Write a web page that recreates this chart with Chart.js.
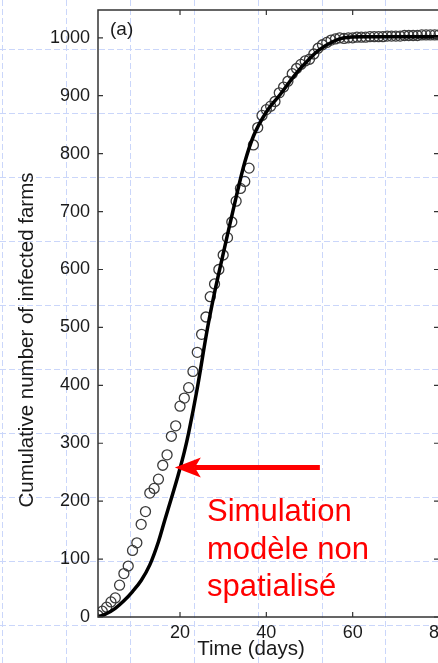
<!DOCTYPE html>
<html>
<head>
<meta charset="utf-8">
<style>
  html, body { margin: 0; padding: 0; overflow: hidden; background: #fff; }
  canvas { display: block; }
</style>
</head>
<body>
<canvas id="myChart" width="480" height="663"></canvas>
<script src="https://cdn.jsdelivr.net/npm/chart.js@4.4.1/dist/chart.umd.min.js"></script>
<script>
// observed cumulative infected farms (circles)
const obsDays = [1, 2, 3, 4, 5, 6, 7, 8, 9, 10, 11, 12, 13, 14, 15, 16, 17, 18, 19, 20,
  21, 22, 23, 24, 25, 26, 27, 28, 29, 30, 31, 32, 33, 34, 35, 36, 37, 38, 39, 40,
  41, 42, 43, 44, 45, 46, 47, 48, 49, 50, 51, 52, 53, 54, 55, 56, 57, 58, 59, 60,
  61, 62, 63, 64, 65, 66, 67, 68, 69, 70, 71, 72, 73, 74, 75, 76, 77, 78, 79, 80];
const obsFarms = [3, 10, 17, 26, 33, 55, 75, 88, 115, 128, 160, 182, 214, 222, 238, 262, 280, 312, 330, 364,
  378, 396, 424, 457, 488, 518, 553, 575, 600, 625, 655, 682, 718, 740, 752, 775, 815, 845, 866, 876,
  882, 890, 905, 915, 925, 938, 947, 954, 960, 963, 972, 982, 988, 992, 996, 998, 1000, 999, 1000, 1000,
  1001, 1001, 1001, 1002, 1002, 1002, 1002, 1003, 1003, 1003, 1003, 1004, 1004, 1004, 1004, 1005, 1005, 1005, 1005, 1005];

// non-spatial model simulation (solid line)
const simDays = [1, 3, 5, 7, 9, 11, 13, 15, 16.5, 18, 19.5, 21, 22, 24, 26.3, 28, 29.7, 31, 33, 35,
  37, 40, 43.3, 46, 48, 52, 55.6, 58, 62, 80];
const simFarms = [0, 6, 15, 28, 44, 63, 90, 130, 168, 205, 243, 285, 318, 395, 496, 560, 617, 660, 725, 785,
  830, 872, 903, 930, 948, 978, 994, 1000, 1002, 1002];

const xTicks = [20, 40, 60, 80];
const yTicks = [0, 100, 200, 300, 400, 500, 600, 700, 800, 900, 1000];

const fontFamily = "'Liberation Sans', Arial, Helvetica, sans-serif";

// light dashed grid behind the whole picture
const pageGrid = {
  id: "pageGrid",
  beforeDraw(chart) {
    const c = chart.ctx;
    c.save();
    c.strokeStyle = "#cad6fa";
    c.lineWidth = 1;
    c.setLineDash([6, 3]);
    for (let k = 0; k < 8; k++) {
      const x = Math.round(2 + 63.9 * k) + 0.5;
      c.beginPath(); c.moveTo(x, 0); c.lineTo(x, chart.height); c.stroke();
    }
    for (let k = 0; k < 10; k++) {
      const y = Math.round(49 + 64 * k) + 0.5;
      c.beginPath(); c.moveTo(0, y); c.lineTo(chart.width, y); c.stroke();
    }
    c.restore();
  }
};

// matlab style box, inner ticks, titles and the red note
const frame = {
  id: "frame",
  afterDraw(chart) {
    const c = chart.ctx;
    const a = chart.chartArea;
    const xs = chart.scales.x;
    const ys = chart.scales.y;
    c.save();
    c.strokeStyle = "#333";
    c.lineWidth = 1.5;
    c.strokeRect(a.left, a.top, a.right - a.left, a.bottom - a.top);
    c.lineWidth = 1.2;
    yTicks.forEach(v => {
      const y = ys.getPixelForValue(v);
      c.beginPath();
      c.moveTo(a.left, y); c.lineTo(a.left + 5, y);
      c.moveTo(a.right, y); c.lineTo(a.right - 5, y);
      c.stroke();
    });
    xTicks.forEach(v => {
      const x = xs.getPixelForValue(v);
      c.beginPath();
      c.moveTo(x, a.bottom); c.lineTo(x, a.bottom - 5);
      c.moveTo(x, a.top); c.lineTo(x, a.top + 5);
      c.stroke();
    });

    c.fillStyle = "#1a1a1a";
    c.font = "19px " + fontFamily;
    c.textAlign = "left";
    c.textBaseline = "middle";
    c.fillText("(a)", 110, 30);

    c.font = "20.5px " + fontFamily;
    c.textAlign = "center";
    c.fillText("Time (days)", 251, 649);
    c.save();
    c.translate(27, 340);
    c.rotate(-Math.PI / 2);
    c.fillText("Cumulative number of infected farms", 0, 0);
    c.restore();

    // red arrow pointing at the model curve
    const tipX = xs.getPixelForValue(18.8);
    const tailX = xs.getPixelForValue(52.4);
    const arrowY = ys.getPixelForValue(258);
    c.strokeStyle = "#ff0000";
    c.fillStyle = "#ff0000";
    c.lineWidth = 5;
    c.beginPath();
    c.moveTo(tailX, arrowY); c.lineTo(tipX + 20, arrowY);
    c.stroke();
    c.beginPath();
    c.moveTo(tipX, arrowY);
    c.lineTo(tipX + 26, arrowY - 10);
    c.lineTo(tipX + 20, arrowY);
    c.lineTo(tipX + 26, arrowY + 10);
    c.closePath();
    c.fill();

    c.font = "31px " + fontFamily;
    c.textAlign = "left";
    c.fillText("Simulation", 207, 512);
    c.fillText("modèle non", 207, 550);
    c.fillText("spatialisé", 207, 587);
    c.restore();
  }
};

const ctx = document.getElementById("myChart");

new Chart(ctx, {
  type: "scatter",
  data: {
    datasets: [
      {
        label: "Model",
        data: simDays.map((d, i) => ({ x: d, y: simFarms[i] })),
        showLine: true,
        borderColor: "#000",
        borderWidth: 3.5,
        pointRadius: 0,
        cubicInterpolationMode: "monotone",
        order: 0,
      },
      {
        label: "Observed",
        data: obsDays.map((d, i) => ({ x: d, y: obsFarms[i] })),
        showLine: false,
        pointStyle: "circle",
        pointRadius: 5,
        pointBorderWidth: 1.3,
        borderColor: "#3a3a3a",
        backgroundColor: "rgba(0,0,0,0)",
        order: 1,
      },
    ],
  },
  options: {
    responsive: false,
    animation: false,
    events: [],
    layout: { padding: { left: 0, top: 10, right: 41, bottom: 0 } },
    plugins: { legend: { display: false }, tooltip: { enabled: false } },
    scales: {
      x: {
        type: "linear",
        min: 1,
        max: 80,
        grid: { display: false, drawTicks: false },
        border: { display: false },
        afterBuildTicks: (s) => { s.ticks = xTicks.map(v => ({ value: v })); },
        afterFit: (s) => { s.height = 46; s.paddingLeft = 0; s.paddingRight = 0; },
        ticks: { color: "#1a1a1a", padding: 5, maxRotation: 0, callback: (v) => String(v),
          font: { size: 18, family: fontFamily } },
      },
      y: {
        type: "linear",
        min: 0,
        max: 1048,
        grid: { display: false, drawTicks: false },
        border: { display: false },
        afterBuildTicks: (s) => { s.ticks = yTicks.map(v => ({ value: v })); },
        afterFit: (s) => { s.width = 98; s.paddingTop = 0; s.paddingBottom = 0; },
        ticks: { color: "#1a1a1a", padding: 8, callback: (v) => String(v),
          font: { size: 18, family: fontFamily } },
      },
    },
  },
  plugins: [pageGrid, frame],
});
</script>
</body>
</html>
